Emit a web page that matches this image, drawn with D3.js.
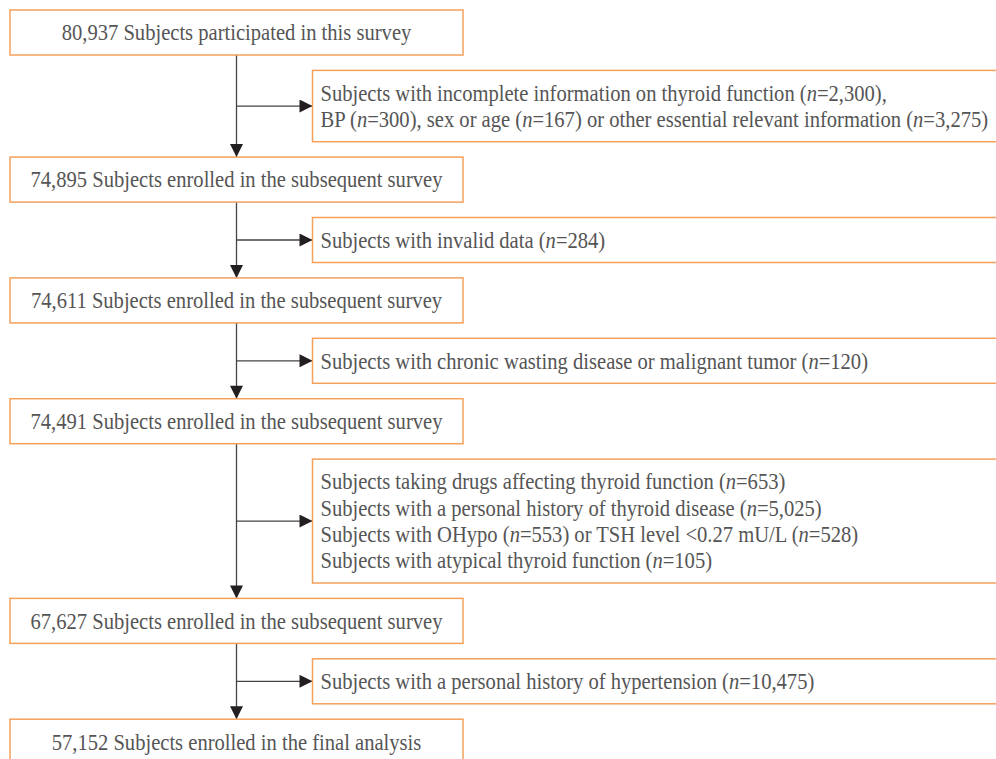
<!DOCTYPE html>
<html>
<head>
<meta charset="utf-8">
<script src="https://cdnjs.cloudflare.com/ajax/libs/d3/7.8.5/d3.min.js"></script>
<style>
  body { margin: 0; background: #fff; }
  svg { display: block; }
</style>
</head>
<body>
<div id="chart"></div>
<script>
// flow steps (main column)
var steps = [
  "80,937 Subjects participated in this survey",
  "74,895 Subjects enrolled in the subsequent survey",
  "74,611 Subjects enrolled in the subsequent survey",
  "74,491 Subjects enrolled in the subsequent survey",
  "67,627 Subjects enrolled in the subsequent survey",
  "57,152 Subjects enrolled in the final analysis"
];

// exclusions between steps, one array of lines each; "{n}" marks italic n
var exclusions = [
  ["Subjects with incomplete information on thyroid function ({n}=2,300),",
   "BP ({n}=300), sex or age ({n}=167) or other essential relevant information ({n}=3,275)"],
  ["Subjects with invalid data ({n}=284)"],
  ["Subjects with chronic wasting disease or malignant tumor ({n}=120)"],
  ["Subjects taking drugs affecting thyroid function ({n}=653)",
   "Subjects with a personal history of thyroid disease ({n}=5,025)",
   "Subjects with OHypo ({n}=553) or TSH level <0.27 mU/L ({n}=528)",
   "Subjects with atypical thyroid function ({n}=105)"],
  ["Subjects with a personal history of hypertension ({n}=10,475)"]
];

var width = 996, height = 759;
var mainX = 10, mainW = 453, mainH = 45;
var sideX = 312.5, sideW = 700;
var gap = 15.4, lineH = 26.3, top0 = 10;
var fontSize = 22.5, squeeze = 0.915;   // the original type is a slightly condensed Times
var orange = "#f5a05a", textCol = "#555", arrowCol = "#231f20";

var svg = d3.select("#chart").append("svg")
  .attr("width", width)
  .attr("height", height);

svg.append("defs").append("marker")
  .attr("id", "head")
  .attr("viewBox", "0 0 10 10")
  .attr("refX", 10).attr("refY", 5)
  .attr("markerWidth", 15).attr("markerHeight", 13)
  .attr("markerUnits", "userSpaceOnUse")
  .attr("orient", "auto")
  .append("path")
  .attr("d", "M0,0L10,5L0,10Z")
  .attr("fill", arrowCol);

// stack the boxes top to bottom
var rows = [];
var y = top0;
steps.forEach(function (s, i) {
  rows.push({ kind: "main", y: y, h: mainH, lines: [s] });
  y += mainH + gap;
  if (i < exclusions.length) {
    var h = mainH + (exclusions[i].length - 1) * lineH;
    rows.push({ kind: "side", y: y, h: h, lines: exclusions[i] });
    y += h + gap;
  }
});

var cx = mainX + mainW / 2;

var mains = rows.filter(function (d) { return d.kind == "main"; });
var sides = rows.filter(function (d) { return d.kind == "side"; });

// connectors
var conn = svg.append("g").attr("stroke", "#444").attr("stroke-width", 1.3);
mains.slice(0, -1).forEach(function (m, i) {
  var next = mains[i + 1];
  var sd = sides[i];
  conn.append("line")
    .attr("x1", cx).attr("x2", cx)
    .attr("y1", m.y + m.h).attr("y2", next.y)
    .attr("marker-end", "url(#head)");
  conn.append("line")
    .attr("x1", cx).attr("x2", sideX)
    .attr("y1", sd.y + sd.h / 2).attr("y2", sd.y + sd.h / 2)
    .attr("marker-end", "url(#head)");
});

// boxes
svg.append("g").selectAll("rect")
  .data(rows)
  .enter().append("rect")
  .attr("x", function (d) { return d.kind == "main" ? mainX : sideX; })
  .attr("y", function (d) { return d.y; })
  .attr("width", function (d) { return d.kind == "main" ? mainW : sideW; })
  .attr("height", function (d) { return d.h; })
  .attr("fill", "#fff")
  .attr("stroke", orange)
  .attr("stroke-width", 1.5);

// text
var txt = svg.append("g")
  .attr("font-family", "'Liberation Serif', 'Times New Roman', serif")
  .attr("font-size", fontSize + "px")
  .attr("fill", textCol);

rows.forEach(function (d) {
  var n = d.lines.length;
  d.lines.forEach(function (line, j) {
    var ly = d.y + d.h / 2 + (j - (n - 1) / 2) * lineH;
    var lx = d.kind == "main" ? cx : sideX + 8;
    var t = txt.append("text")
      .attr("transform", "translate(" + lx + "," + ly + ") scale(" + squeeze + ",1)")
      .attr("dy", "0.35em")
      .attr("text-anchor", d.kind == "main" ? "middle" : "start");
    line.split("{n}").forEach(function (part, k) {
      if (k > 0) t.append("tspan").attr("font-style", "italic").text("n");
      t.append("tspan").text(part);
    });
  });
});
</script>
</body>
</html>
